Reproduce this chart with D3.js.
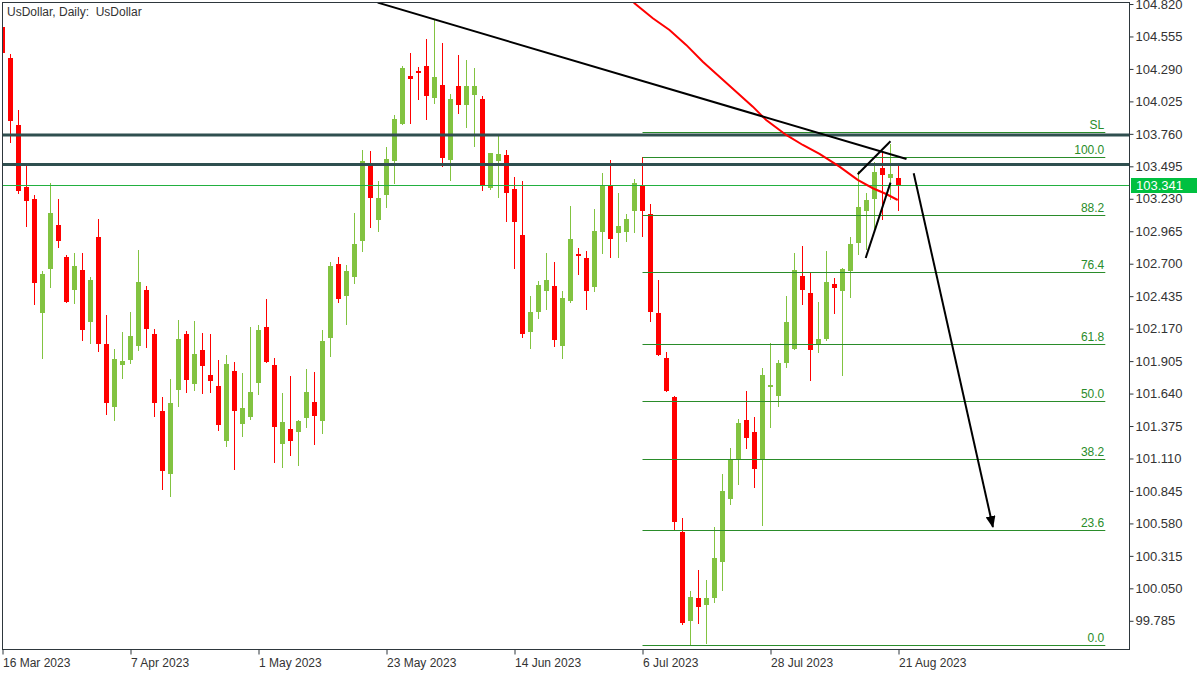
<!DOCTYPE html>
<html><head><meta charset="utf-8">
<script src="https://cdn.jsdelivr.net/npm/d3@7"></script>
<style>body{margin:0;background:#fff}svg{display:block}text{font-family:"Liberation Sans",Arial,sans-serif}</style>
</head><body><svg id="c" width="1200" height="675"></svg>
<script>
// ---- data ----
const tickIdx = [0,16,32,48,64,80,96,112];
const tickLabels = ["16 Mar 2023","7 Apr 2023","1 May 2023","23 May 2023","14 Jun 2023","6 Jul 2023","28 Jul 2023","21 Aug 2023"];
const opens = [104.633,104.380,103.833,103.324,103.229,102.300,102.660,103.016,102.755,102.488,
102.649,102.227,102.918,102.047,101.533,101.876,101.917,102.031,102.488,102.129,
101.500,100.986,101.672,102.129,101.721,101.998,101.794,101.702,101.253,101.824,
101.394,101.451,101.729,102.184,101.873,101.231,101.351,101.329,101.443,101.571,
101.419,102.096,102.698,102.439,102.594,102.888,103.506,103.060,103.264,103.541,
103.843,104.233,104.276,104.314,104.055,104.159,103.549,104.151,103.998,104.080,
104.045,103.321,103.539,103.588,103.310,102.935,102.145,102.309,102.480,102.521,
102.031,102.398,102.782,102.749,102.513,102.962,103.337,102.953,102.962,103.133,
103.343,103.104,102.298,101.931,101.612,100.510,99.786,99.972,99.917,99.974,
100.268,100.782,101.104,101.427,101.329,101.104,101.705,101.623,101.892,102.007,
102.602,102.464,102.047,102.088,102.537,102.480,102.643,102.872,103.133,103.231,
103.484,103.402,103.402];
const highs = [104.641,104.412,103.955,103.514,103.261,102.641,103.359,103.229,102.771,102.788,
102.788,102.592,103.065,102.282,102.007,102.145,102.309,102.815,102.521,102.170,
101.615,101.762,102.243,102.153,102.235,102.137,102.129,101.914,101.955,101.898,
101.808,102.184,102.200,102.412,101.931,101.645,101.784,101.425,101.841,101.816,
102.159,102.714,102.755,102.690,103.114,103.629,103.620,103.375,103.653,103.914,
104.314,104.420,104.306,104.535,104.698,104.502,104.086,104.404,104.363,104.298,
104.069,103.606,103.759,103.629,103.408,103.375,102.437,102.559,102.788,102.714,
102.480,103.171,102.831,102.806,103.149,103.443,103.549,103.280,103.109,103.394,
103.574,103.188,102.570,101.982,101.623,100.627,100.031,100.202,100.121,100.553,
100.986,101.198,101.435,101.664,101.451,101.851,102.051,101.917,102.439,102.790,
102.847,102.627,102.390,102.806,102.586,102.668,102.921,103.460,103.280,103.533,
103.606,103.680,103.500];
const lows = [104.404,103.686,103.272,103.002,102.366,101.920,102.504,102.831,102.382,102.374,
102.072,102.047,101.982,101.468,101.419,101.762,101.884,101.990,102.015,101.451,
100.856,100.798,101.533,101.647,101.664,101.639,101.647,101.335,101.207,101.016,
101.288,101.427,101.631,101.892,101.076,101.035,101.133,101.051,101.362,101.223,
101.313,101.941,102.382,102.202,102.537,102.798,102.994,102.962,103.158,103.353,
103.835,103.843,104.039,103.876,104.006,103.492,103.378,103.925,103.811,103.655,
103.296,103.302,103.239,103.043,102.660,102.096,102.007,102.251,102.325,102.023,
101.925,102.382,102.611,102.325,102.472,102.782,102.749,102.749,102.880,102.953,
102.921,102.227,101.950,101.655,100.529,99.753,99.588,99.762,99.598,99.933,
100.031,100.733,100.896,101.190,100.872,100.562,101.362,101.533,101.851,101.998,
102.366,101.745,101.974,102.072,102.292,101.786,102.423,102.774,102.815,102.970,
103.060,103.223,103.133];
const closes = [104.420,103.865,103.296,103.215,102.545,102.616,103.114,102.888,102.390,102.682,
102.162,102.567,102.047,101.566,101.925,101.909,102.113,102.553,102.170,101.566,
101.011,101.566,102.088,101.753,101.966,101.868,101.745,101.386,101.882,101.500,
101.522,101.653,102.159,101.900,101.370,101.408,101.256,101.416,101.653,101.460,
102.069,102.682,102.415,102.641,102.861,103.539,103.239,103.237,103.555,103.882,
104.298,104.211,104.260,104.072,104.224,103.566,104.045,103.998,104.151,104.151,
103.337,103.604,103.596,103.280,103.043,102.129,102.306,102.529,102.567,102.080,
102.423,102.904,102.766,102.480,102.970,103.343,102.904,103.011,103.068,103.362,
103.133,102.302,101.957,101.664,100.594,99.770,99.980,99.900,99.972,100.300,
100.847,101.104,101.402,101.280,101.027,101.794,101.713,101.892,102.227,102.651,
102.488,101.998,102.088,102.553,102.504,102.660,102.864,103.166,103.223,103.451,
103.427,103.435,103.341];
const priceTicks = [104.820,104.555,104.290,104.025,103.760,103.495,103.230,102.965,102.700,102.435,
102.170,101.905,101.640,101.375,101.110,100.845,100.580,100.315,100.050,99.785];
const fibLevels = [0,23.6,38.2,50,61.8,76.4,88.2,100];
const fibLabels = ["0.0","23.6","38.2","50.0","61.8","76.4","88.2","100.0"];
const fibLow = 99.588, fibHigh = 103.569;
const fibStartIdx = 80, fibEndIdx = 137.85;
const slLevel = 103.773;
const levelLines = [103.75, 103.51];
const lastPrice = 103.341;
const trendIdx = [46.9, 113.0], trendVal = [104.831, 103.555];
const wedgeUpIdx = [106.9, 111.0], wedgeUpVal = [103.430, 103.700];
const wedgeLoIdx = [107.9, 111.0], wedgeLoVal = [102.747, 103.362];
const arrowIdx = [113.9, 123.8], arrowVal = [103.438, 100.551];
const maIdx = [78.6,79,81.29,83.375,85.46,87.54,89.625,91.71,93.79,95.46,97.96,100.04,102.125,104.625,106.9,108.79,110.46,111.9];
const maVal = [104.86,104.826,104.704,104.608,104.486,104.349,104.227,104.104,103.982,103.873,103.751,103.669,103.596,103.492,103.384,103.316,103.269,103.220];

// ---- drawing ----
const svg = d3.select('#c');
const L = 2, R = 1130, T = 2, B = 650;
const x = d3.scaleLinear().domain([0, 112]).range([2.5, 898.5]);
const y = d3.scaleLinear().domain([99.785, 104.820]).range([620.8, 4]);
const upCol = '#82c341', dnCol = '#ff0000', fibCol = '#2a8c2a', txtCol = '#333';

svg.append('rect').attr('width',1200).attr('height',675).attr('fill','#fff');
svg.append('defs').append('clipPath').attr('id','clip')
  .append('rect').attr('x',L).attr('y',T).attr('width',R-L).attr('height',B-T);
svg.append('defs').append('marker').attr('id','arr')
  .attr('viewBox','0 0 12 10').attr('refX',11).attr('refY',5)
  .attr('markerWidth',12).attr('markerHeight',10).attr('markerUnits','userSpaceOnUse')
  .attr('orient','auto')
  .append('path').attr('d','M0,0L12,5L0,10Z').attr('fill','#000');

const g = svg.append('g').attr('clip-path','url(#clip)');

const data = opens.map((o,i)=>({i,o,h:highs[i],l:lows[i],c:closes[i]}));
g.selectAll('.wick').data(data).join('rect').attr('class','wick')
  .attr('x',d=>x(d.i)-0.5).attr('width',1)
  .attr('y',d=>Math.round(y(d.h))).attr('height',d=>Math.max(1,Math.round(y(d.l))-Math.round(y(d.h))))
  .attr('fill',d=>d.c>=d.o?upCol:dnCol);
g.selectAll('.body').data(data).join('rect').attr('class','body')
  .attr('x',d=>x(d.i)-2.5).attr('width',5)
  .attr('y',d=>Math.round(y(Math.max(d.o,d.c))))
  .attr('height',d=>Math.max(2,Math.round(y(Math.min(d.o,d.c)))-Math.round(y(Math.max(d.o,d.c)))))
  .attr('fill',d=>d.c>=d.o?upCol:dnCol);

// last price line
g.append('line').attr('x1',L).attr('x2',R).attr('y1',Math.round(y(lastPrice))+0.5).attr('y2',Math.round(y(lastPrice))+0.5)
  .attr('stroke','#22b040').attr('stroke-width',1);

// thick level lines
g.selectAll('.lvl').data(levelLines).join('line').attr('class','lvl')
  .attr('x1',L).attr('x2',R).attr('y1',d=>y(d)).attr('y2',d=>y(d))
  .attr('stroke','#2f4f4f').attr('stroke-width',3);

// fibonacci
const fibData = fibLevels.map((p,k)=>({v: fibLow + (fibHigh-fibLow)*p/100, t: fibLabels[k]}));
fibData.push({v: slLevel, t: 'SL'});
g.selectAll('.fib').data(fibData).join('line').attr('class','fib')
  .attr('x1',x(fibStartIdx)).attr('x2',x(fibEndIdx))
  .attr('y1',d=>Math.round(y(d.v))+0.5).attr('y2',d=>Math.round(y(d.v))+0.5)
  .attr('stroke',fibCol).attr('stroke-width',1);
g.selectAll('.fibt').data(fibData).join('text').attr('class','fibt')
  .attr('x',x(fibEndIdx)-1).attr('y',d=>Math.round(y(d.v))-3)
  .attr('text-anchor','end').attr('font-size',12).attr('fill',fibCol).text(d=>d.t);

// red moving-average curve
const line = d3.line().x(d=>x(d[0])).y(d=>y(d[1]));
g.append('path').datum(maIdx.map((v,k)=>[v,maVal[k]])).attr('d',line)
  .attr('fill','none').attr('stroke','#ff0000').attr('stroke-width',2);

// trendlines
const seg = (xs,vs)=>xs.map((v,k)=>[v,vs[k]]);
[[trendIdx,trendVal],[wedgeUpIdx,wedgeUpVal],[wedgeLoIdx,wedgeLoVal]].forEach(([a,b])=>{
  g.append('path').datum(seg(a,b)).attr('d',line).attr('fill','none').attr('stroke','#000').attr('stroke-width',2);
});
g.append('path').datum(seg(arrowIdx,arrowVal)).attr('d',line).attr('fill','none')
  .attr('stroke','#000').attr('stroke-width',2).attr('marker-end','url(#arr)');

// frame
svg.append('rect').attr('x',L+0.5).attr('y',T+0.5).attr('width',R-L-1).attr('height',B-T-1)
  .attr('fill','none').attr('stroke','#2e373d').attr('stroke-width',1);

// right axis
const ay = svg.append('g').attr('transform',`translate(${R-0.5},0)`)
  .call(d3.axisRight(y).tickValues(priceTicks).tickFormat(d3.format('.3f')).tickSize(4).tickPadding(2));
ay.select('.domain').remove();
ay.selectAll('line').attr('stroke','#2e373d');
ay.selectAll('text').attr('font-size',13).attr('fill',txtCol).attr('font-family','"Liberation Sans",Arial,sans-serif');

// bottom axis
const ax = svg.append('g').attr('transform',`translate(0,${B-0.5})`)
  .call(d3.axisBottom(x).tickValues(tickIdx).tickFormat((d,k)=>tickLabels[k]).tickSize(5));
ax.select('.domain').remove();
ax.selectAll('line').attr('stroke','#2e373d');
ax.selectAll('text').attr('text-anchor','start').attr('dy',0).attr('y',17).attr('x',0)
  .attr('font-size',12).attr('fill',txtCol).attr('font-family','"Liberation Sans",Arial,sans-serif');

// current price label
const ly = Math.round(y(lastPrice));
svg.append('rect').attr('x',R+1).attr('y',ly-7).attr('width',66).attr('height',15).attr('fill','#00c040');
svg.append('text').attr('x',R+6).attr('y',ly+5).attr('font-size',13).attr('fill','#fff').text(d3.format('.3f')(lastPrice));

// title
svg.append('text').attr('x',7).attr('y',16).attr('font-size',12).attr('fill',txtCol)
  .style('white-space','pre').text('UsDollar, Daily:  UsDollar');
</script></body></html>
